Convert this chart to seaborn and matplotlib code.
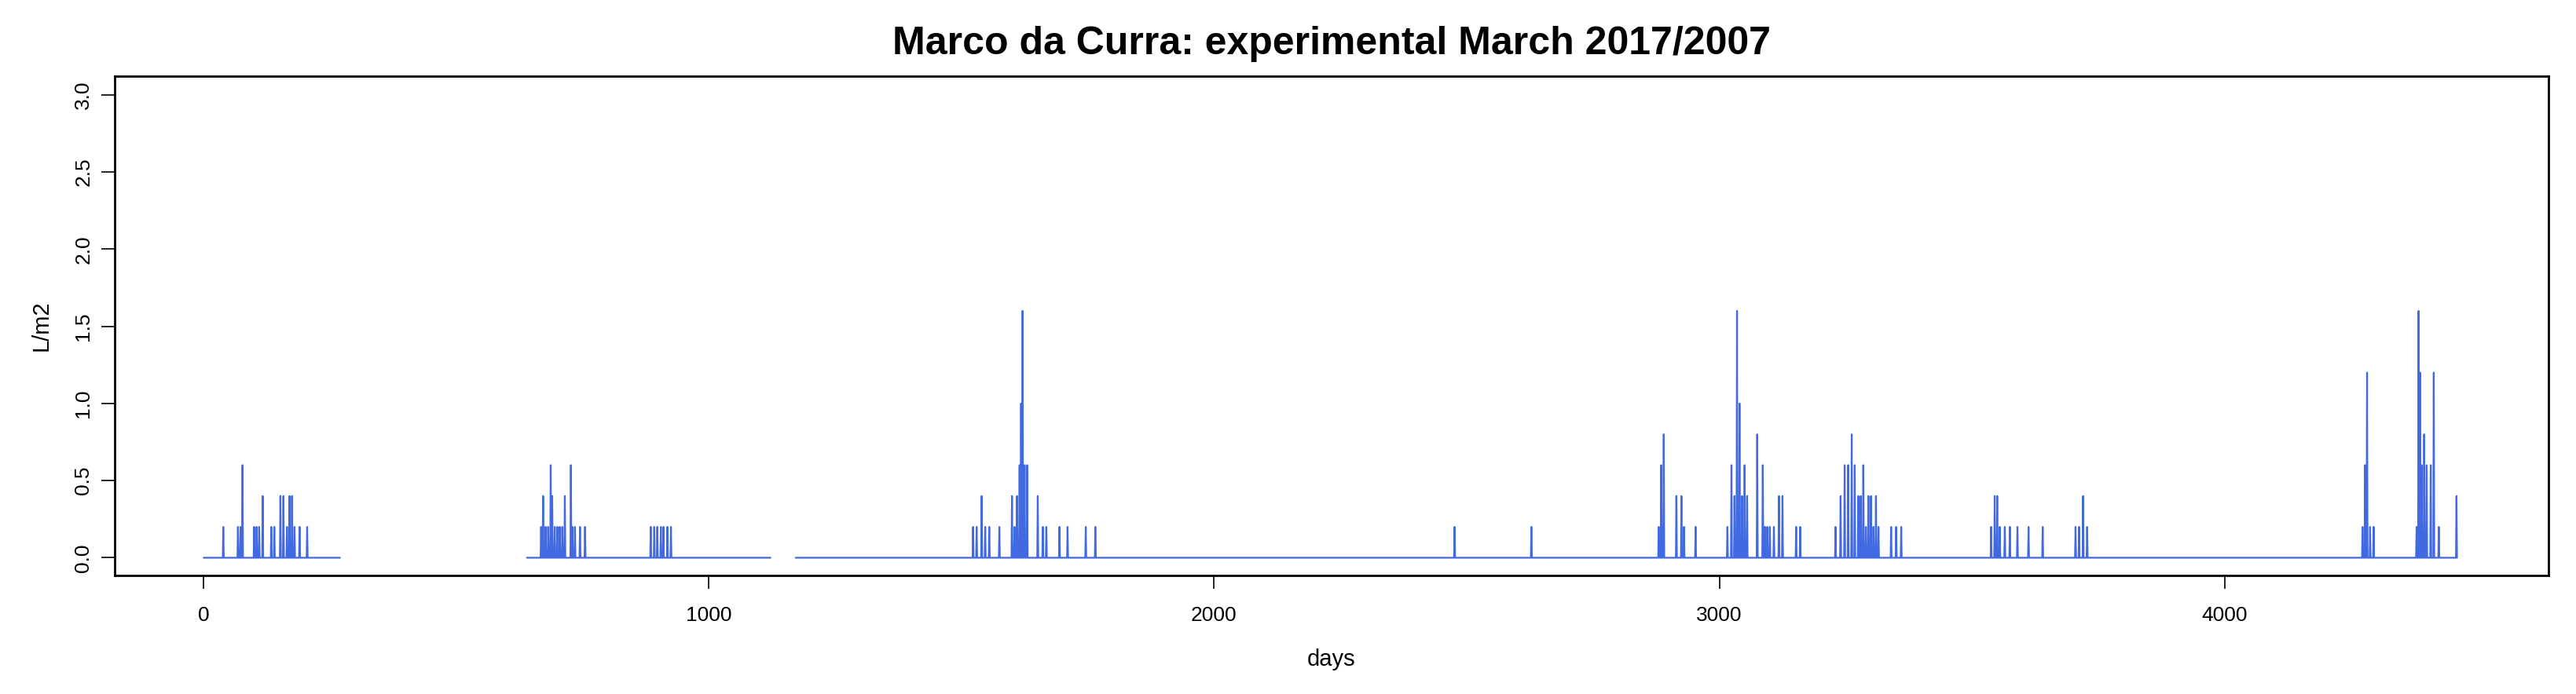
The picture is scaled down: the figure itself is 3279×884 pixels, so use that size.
import numpy as np
import pandas as pd
import matplotlib
matplotlib.use('Agg')
import matplotlib.pyplot as plt
import seaborn as sns

# recorded periods (start day, end day); no data between them
periods = [(0, 270), (640, 1122), (1172, 4460)]

# rain days: day and amount (L/m2)
rain_days = [39, 68, 73, 77, 100, 105, 110, 117, 134, 140, 152, 158, 165, 170, 175, 180, 190, 205,
             668, 672, 677, 682, 687, 690, 695, 700, 705, 710, 715, 727, 730, 735, 745, 755,
             885, 892, 898, 905, 910, 918, 925,
             1523, 1530, 1540, 1547, 1555, 1575, 1600, 1605, 1610, 1615, 1618, 1621, 1625, 1630,
             1651, 1661, 1668, 1694, 1710, 1746, 1765,
             2476, 2628, 2880, 2885, 2890, 2915, 2925, 2930, 2953,
             3016, 3024, 3030, 3035, 3040, 3045, 3050, 3055, 3075, 3086, 3090, 3095, 3100, 3108,
             3118, 3125, 3152, 3160,
             3230, 3240, 3248, 3255, 3262, 3268, 3275, 3280, 3285, 3290, 3295, 3300, 3305, 3310, 3315,
             3340, 3350, 3360,
             3538, 3545, 3550, 3555, 3565, 3575, 3590, 3612, 3640, 3705, 3712, 3720, 3728,
             4273, 4278, 4282, 4288, 4295,
             4380, 4384, 4387, 4390, 4395, 4400, 4408, 4414, 4424, 4459]
rain_vals = [0.2, 0.2, 0.2, 0.6, 0.2, 0.2, 0.2, 0.4, 0.2, 0.2, 0.4, 0.4, 0.2, 0.4, 0.4, 0.2, 0.2, 0.2,
             0.2, 0.4, 0.2, 0.2, 0.6, 0.4, 0.2, 0.2, 0.2, 0.2, 0.4, 0.6, 0.2, 0.2, 0.2, 0.2,
             0.2, 0.2, 0.2, 0.2, 0.2, 0.2, 0.2,
             0.2, 0.2, 0.4, 0.2, 0.2, 0.2, 0.4, 0.2, 0.4, 0.6, 1.0, 1.6, 0.6, 0.6,
             0.4, 0.2, 0.2, 0.2, 0.2, 0.2, 0.2,
             0.2, 0.2, 0.2, 0.6, 0.8, 0.4, 0.4, 0.2, 0.2,
             0.2, 0.6, 0.4, 1.6, 1.0, 0.4, 0.6, 0.4, 0.8, 0.6, 0.2, 0.2, 0.2, 0.2,
             0.4, 0.4, 0.2, 0.2,
             0.2, 0.4, 0.6, 0.6, 0.8, 0.6, 0.4, 0.4, 0.6, 0.2, 0.4, 0.4, 0.2, 0.4, 0.2,
             0.2, 0.2, 0.2,
             0.2, 0.4, 0.4, 0.2, 0.2, 0.2, 0.2, 0.2, 0.2, 0.2, 0.2, 0.4, 0.2,
             0.2, 0.6, 1.2, 0.2, 0.2,
             0.2, 1.6, 1.2, 0.6, 0.8, 0.6, 0.6, 1.2, 0.2, 0.4]

rain = dict(zip(rain_days, rain_vals))
rows = []
for seg, (start, end) in enumerate(periods):
    for d in range(start, end + 1):
        rows.append((d, rain.get(d, 0.0), seg))
df = pd.DataFrame(rows, columns=['day', 'rain', 'segment'])

sns.set_style('white', {'xtick.bottom': True, 'ytick.left': True})
plt.rcParams['font.family'] = ['Liberation Sans', 'DejaVu Sans']
plt.rcParams['text.color'] = 'black'
plt.rcParams['axes.labelcolor'] = 'black'
plt.rcParams['xtick.color'] = 'black'
plt.rcParams['ytick.color'] = 'black'

fig = plt.figure(figsize=(32.8, 8.84), dpi=100)
ax = fig.add_axes([0.0445, 0.171, 0.9445, 0.719])
sns.lineplot(data=df, x='day', y='rain', units='segment', estimator=None,
             color='#4169E1', linewidth=1.6, ax=ax)

ax.set_xlim(-176, 4641)
ax.set_ylim(-0.114, 3.12)
ax.set_xticks([0, 1000, 2000, 3000, 4000])
ax.set_yticks([0, 0.5, 1.0, 1.5, 2.0, 2.5, 3.0])
ax.set_yticklabels(['0.0', '0.5', '1.0', '1.5', '2.0', '2.5', '3.0'], rotation=90, va='center')
ax.tick_params(axis='both', length=12, width=1.2, labelsize=19, pad=8, direction='out')
ax.tick_params(axis='x', pad=16)
for s in ax.spines.values():
    s.set_color('black')
    s.set_linewidth(2)
ax.set_xlabel('days', fontsize=21, labelpad=22)
ax.set_ylabel('L/m2', fontsize=21, labelpad=20)
ax.set_title('Marco da Curra: experimental March 2017/2007', fontsize=36, fontweight='bold', pad=20)

plt.savefig('out.png', dpi=100)
